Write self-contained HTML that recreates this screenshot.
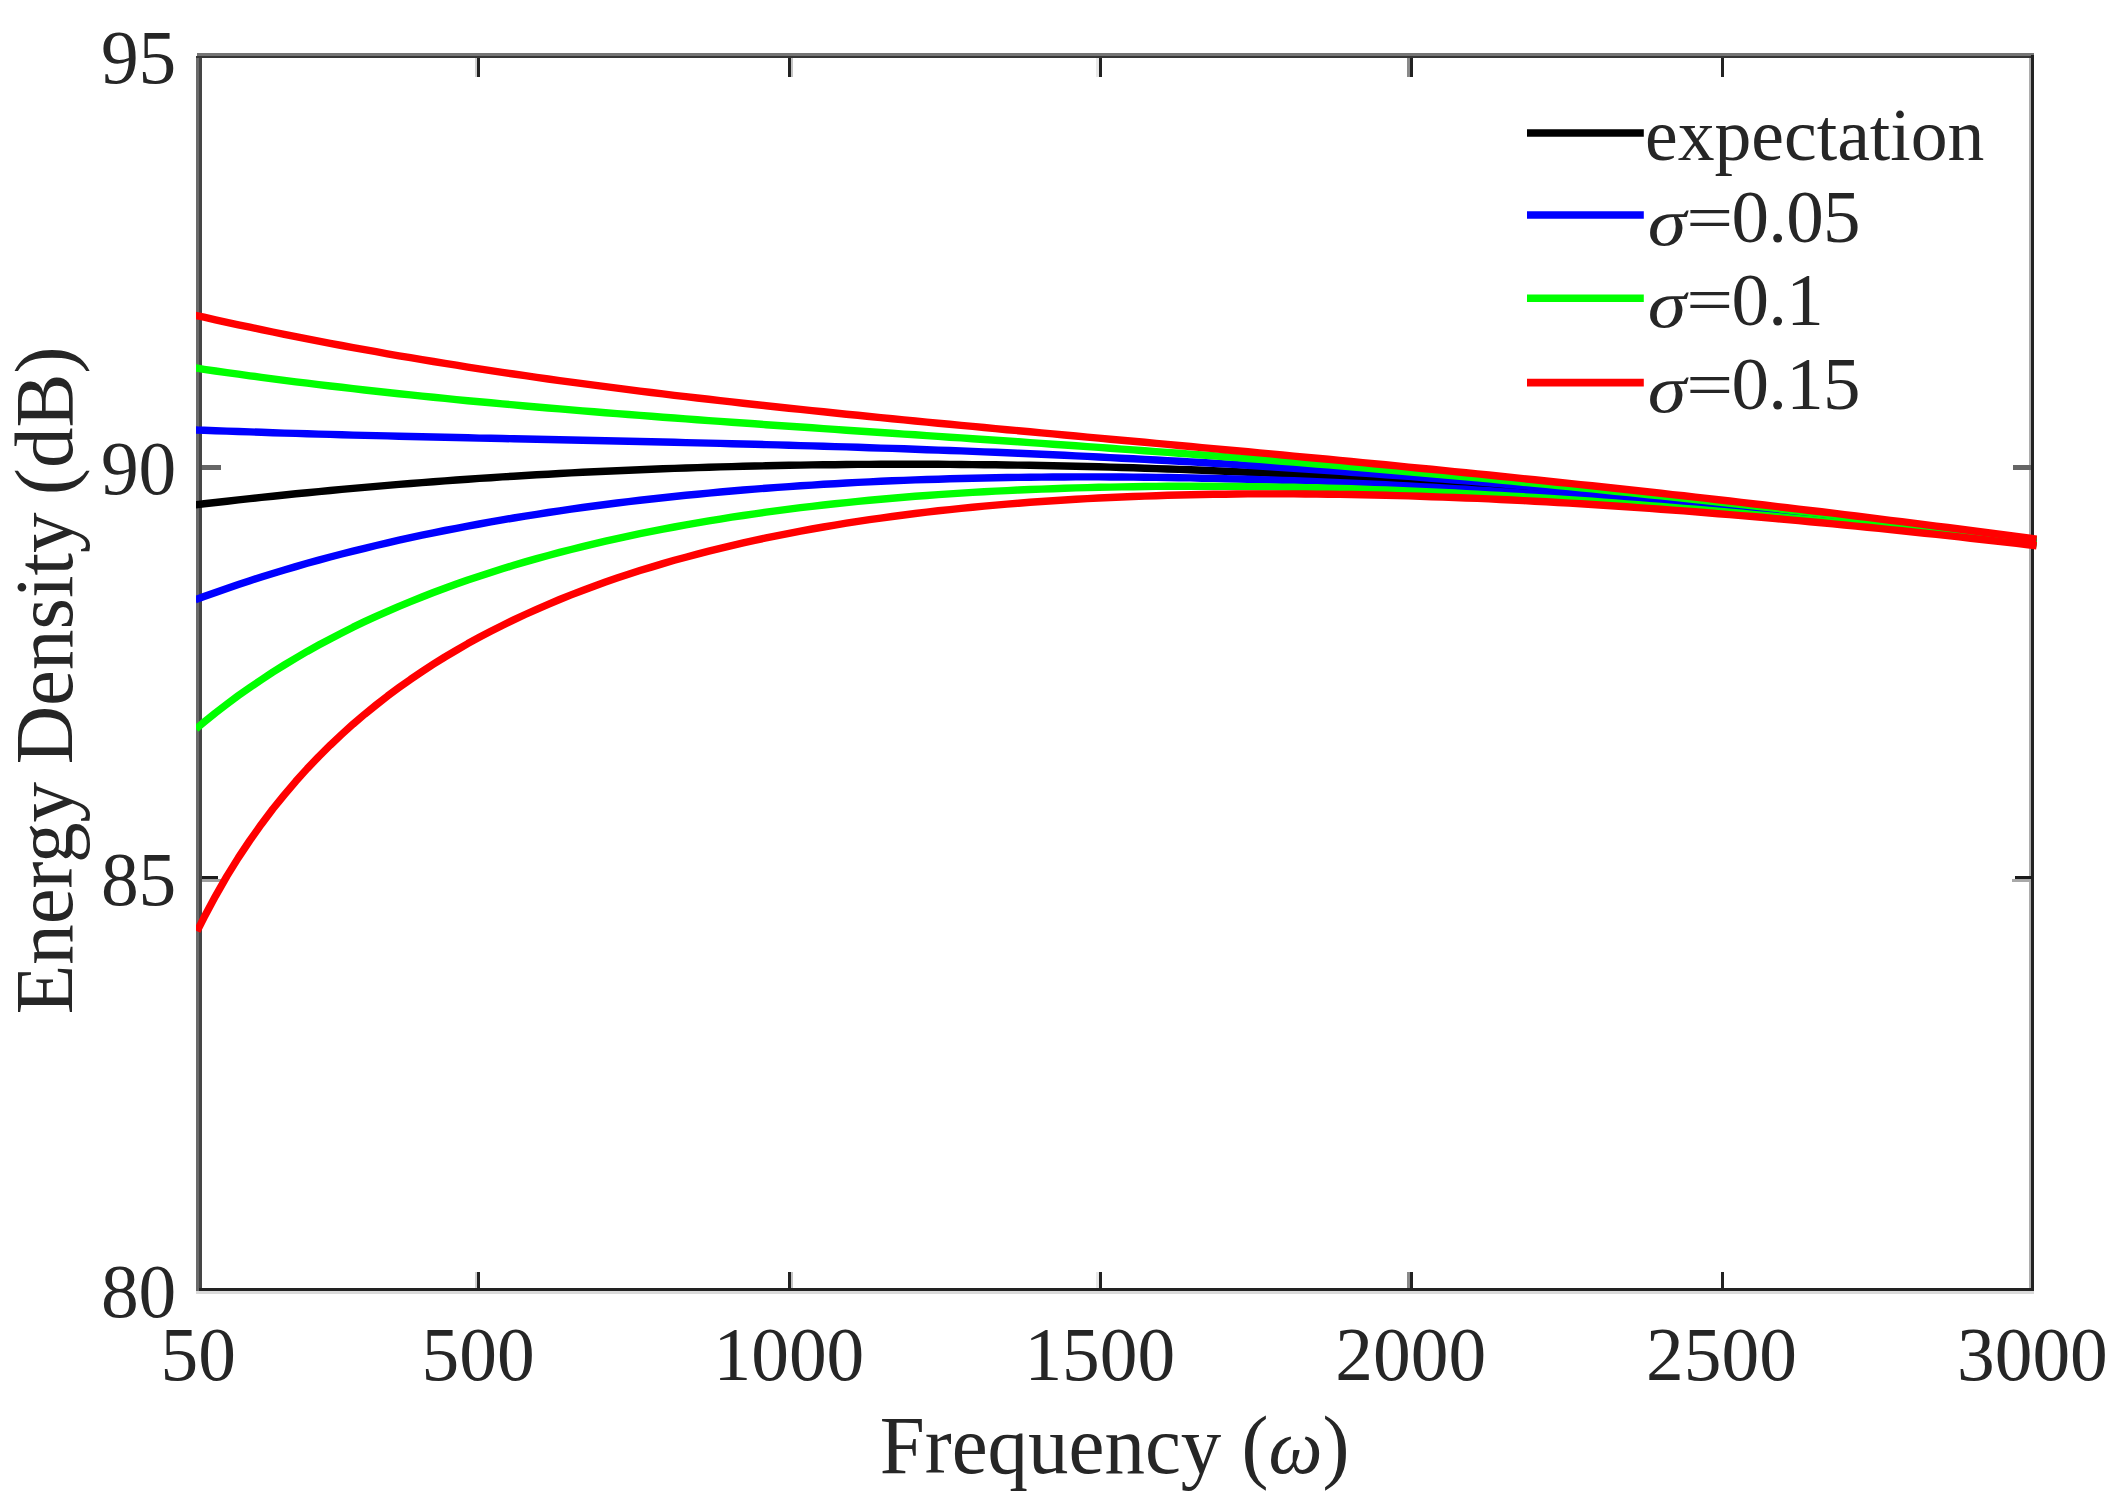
<!DOCTYPE html>
<html lang="en"><head><meta charset="utf-8"><title>Energy Density vs Frequency</title>
<style>html,body{margin:0;padding:0;background:#fff}body{width:2115px;height:1502px;overflow:hidden}svg{display:block}text{font-family:"Liberation Serif","Times New Roman",serif;fill:#262626}</style></head><body>
<svg width="2115" height="1502" viewBox="0 0 2115 1502">
<defs><clipPath id="ax"><rect x="196" y="50" width="1841.2" height="1245"/></clipPath></defs>
<rect width="2115" height="1502" fill="#fff"/>
<g shape-rendering="crispEdges">
<rect x="196" y="56" width="3" height="1235" fill="#6a6a6a"/><rect x="199" y="56" width="3" height="1235" fill="#454545"/>
<rect x="197" y="53" width="1837" height="2.5" fill="#757575"/><rect x="196" y="55.5" width="1838" height="2.5" fill="#363636"/>
<rect x="2029" y="58" width="2.4" height="1233" fill="#adadad"/><rect x="2031.4" y="55" width="2.7" height="1236" fill="#222"/>
<rect x="199" y="1288" width="1835" height="3" fill="#222"/><rect x="196" y="1291" width="1838" height="2.7" fill="#dadada"/>
<rect x="474.5" y="1272" width="2.6" height="16" fill="#d0d0d0"/>
<rect x="477.0" y="1272" width="3.1" height="16" fill="#222"/>
<rect x="474.5" y="58" width="2.6" height="19" fill="#d0d0d0"/>
<rect x="477.0" y="58" width="3.1" height="19" fill="#222"/>
<rect x="790.9" y="1272" width="2.2" height="16" fill="#c4c4c4"/>
<rect x="787.9" y="1272" width="3.1" height="16" fill="#222"/>
<rect x="790.9" y="58" width="2.2" height="19" fill="#c4c4c4"/>
<rect x="787.9" y="58" width="3.1" height="19" fill="#222"/>
<rect x="1096.2" y="1272" width="2.6" height="16" fill="#e8e8e8"/>
<rect x="1098.8" y="1272" width="3.1" height="16" fill="#222"/>
<rect x="1096.2" y="58" width="2.6" height="19" fill="#e8e8e8"/>
<rect x="1098.8" y="58" width="3.1" height="19" fill="#222"/>
<rect x="1407.1" y="1272" width="2.6" height="16" fill="#8a8a8a"/>
<rect x="1409.6" y="1272" width="3.1" height="16" fill="#222"/>
<rect x="1407.1" y="58" width="2.6" height="19" fill="#8a8a8a"/>
<rect x="1409.6" y="58" width="3.1" height="19" fill="#222"/>
<rect x="1720.5" y="1272" width="3.1" height="16" fill="#222"/>
<rect x="1720.5" y="58" width="3.1" height="19" fill="#222"/>
<rect x="202" y="465" width="18.5" height="5" fill="#666"/>
<rect x="2012.5" y="465" width="18.5" height="5" fill="#666"/>
<rect x="202" y="876" width="16" height="3" fill="#1c1c1c"/><rect x="202" y="879" width="18.5" height="2.7" fill="#a0a0a0"/>
<rect x="2014.5" y="876" width="17" height="3" fill="#1c1c1c"/><rect x="2012.3" y="879" width="19" height="2.7" fill="#a8a8a8"/>
</g>
<g fill="none" stroke-width="7.4" stroke-linejoin="round" stroke-linecap="square" clip-path="url(#ax)">
<path d="M198.8 504.4 L204.0 503.8 L215.5 502.5 L226.9 501.2 L238.4 499.9 L249.9 498.6 L261.4 497.4 L272.8 496.2 L284.3 495.0 L295.8 493.8 L307.2 492.7 L318.7 491.6 L330.2 490.5 L341.7 489.4 L353.1 488.4 L364.6 487.4 L376.1 486.4 L387.5 485.4 L399.0 484.4 L410.5 483.5 L422.0 482.6 L433.4 481.7 L444.9 480.9 L456.4 480.0 L467.8 479.2 L479.3 478.4 L490.8 477.7 L502.3 476.9 L513.7 476.2 L525.2 475.5 L536.7 474.8 L548.2 474.2 L559.6 473.5 L571.1 472.9 L582.6 472.3 L594.0 471.8 L605.5 471.2 L617.0 470.7 L628.5 470.2 L639.9 469.7 L651.4 469.2 L662.9 468.8 L674.3 468.4 L685.8 468.0 L697.3 467.6 L708.8 467.2 L720.2 466.9 L731.7 466.6 L743.2 466.3 L754.6 466.0 L766.1 465.8 L777.6 465.5 L789.1 465.3 L800.5 465.1 L812.0 464.9 L823.5 464.8 L834.9 464.7 L846.4 464.5 L857.9 464.4 L869.4 464.4 L880.8 464.3 L892.3 464.3 L903.8 464.3 L915.2 464.3 L926.7 464.3 L938.2 464.3 L949.7 464.4 L961.1 464.5 L972.6 464.6 L984.1 464.7 L995.5 464.8 L1007.0 465.0 L1018.5 465.1 L1030.0 465.3 L1041.4 465.5 L1052.9 465.7 L1064.4 466.0 L1075.8 466.2 L1087.3 466.5 L1098.8 466.8 L1110.3 467.1 L1121.7 467.5 L1133.2 467.8 L1144.7 468.2 L1156.2 468.6 L1167.6 469.0 L1179.1 469.4 L1190.6 469.8 L1202.0 470.3 L1213.5 470.7 L1225.0 471.2 L1236.5 471.7 L1247.9 472.2 L1259.4 472.8 L1270.9 473.3 L1282.3 473.9 L1293.8 474.5 L1305.3 475.1 L1316.8 475.7 L1328.2 476.3 L1339.7 477.0 L1351.2 477.6 L1362.6 478.3 L1374.1 479.0 L1385.6 479.7 L1397.1 480.5 L1408.5 481.2 L1420.0 481.9 L1431.5 482.7 L1442.9 483.5 L1454.4 484.3 L1465.9 485.1 L1477.4 486.0 L1488.8 486.8 L1500.3 487.7 L1511.8 488.5 L1523.2 489.4 L1534.7 490.3 L1546.2 491.2 L1557.7 492.2 L1569.1 493.1 L1580.6 494.1 L1592.1 495.0 L1603.5 496.0 L1615.0 497.0 L1626.5 498.0 L1638.0 499.1 L1649.4 500.1 L1660.9 501.2 L1672.4 502.2 L1683.8 503.3 L1695.3 504.4 L1706.8 505.5 L1718.3 506.6 L1729.7 507.8 L1741.2 508.9 L1752.7 510.1 L1764.2 511.2 L1775.6 512.4 L1787.1 513.6 L1798.6 514.8 L1810.0 516.0 L1821.5 517.3 L1833.0 518.5 L1844.5 519.8 L1855.9 521.0 L1867.4 522.3 L1878.9 523.6 L1890.3 524.9 L1901.8 526.2 L1913.3 527.5 L1924.8 528.9 L1936.2 530.2 L1947.7 531.6 L1959.2 532.9 L1970.6 534.3 L1982.1 535.7 L1993.6 537.1 L2005.1 538.5 L2016.5 539.9 L2028.0 541.4 L2032.9 542.0" stroke="#000"/>
<path d="M198.8 430.1 L204.0 430.3 L215.5 430.7 L226.9 431.1 L238.4 431.5 L249.9 431.9 L261.4 432.3 L272.8 432.7 L284.3 433.1 L295.8 433.4 L307.2 433.8 L318.7 434.1 L330.2 434.4 L341.7 434.7 L353.1 435.1 L364.6 435.4 L376.1 435.6 L387.5 435.9 L399.0 436.2 L410.5 436.5 L422.0 436.8 L433.4 437.0 L444.9 437.3 L456.4 437.5 L467.8 437.8 L479.3 438.1 L490.8 438.3 L502.3 438.5 L513.7 438.8 L525.2 439.0 L536.7 439.3 L548.2 439.5 L559.6 439.8 L571.1 440.0 L582.6 440.3 L594.0 440.5 L605.5 440.8 L617.0 441.0 L628.5 441.3 L639.9 441.5 L651.4 441.8 L662.9 442.0 L674.3 442.3 L685.8 442.6 L697.3 442.9 L708.8 443.1 L720.2 443.4 L731.7 443.7 L743.2 444.0 L754.6 444.3 L766.1 444.6 L777.6 444.9 L789.1 445.2 L800.5 445.6 L812.0 445.9 L823.5 446.2 L834.9 446.6 L846.4 446.9 L857.9 447.3 L869.4 447.7 L880.8 448.1 L892.3 448.4 L903.8 448.8 L915.2 449.2 L926.7 449.7 L938.2 450.1 L949.7 450.5 L961.1 450.9 L972.6 451.4 L984.1 451.9 L995.5 452.3 L1007.0 452.8 L1018.5 453.3 L1030.0 453.8 L1041.4 454.3 L1052.9 454.8 L1064.4 455.3 L1075.8 455.9 L1087.3 456.4 L1098.8 457.0 L1110.3 457.6 L1121.7 458.2 L1133.2 458.7 L1144.7 459.4 L1156.2 460.0 L1167.6 460.6 L1179.1 461.2 L1190.6 461.9 L1202.0 462.5 L1213.5 463.2 L1225.0 463.9 L1236.5 464.6 L1247.9 465.3 L1259.4 466.0 L1270.9 466.7 L1282.3 467.5 L1293.8 468.2 L1305.3 469.0 L1316.8 469.8 L1328.2 470.6 L1339.7 471.4 L1351.2 472.2 L1362.6 473.0 L1374.1 473.8 L1385.6 474.7 L1397.1 475.5 L1408.5 476.4 L1420.0 477.3 L1431.5 478.2 L1442.9 479.1 L1454.4 480.0 L1465.9 480.9 L1477.4 481.9 L1488.8 482.8 L1500.3 483.8 L1511.8 484.8 L1523.2 485.8 L1534.7 486.8 L1546.2 487.8 L1557.7 488.8 L1569.1 489.8 L1580.6 490.9 L1592.1 491.9 L1603.5 493.0 L1615.0 494.1 L1626.5 495.2 L1638.0 496.3 L1649.4 497.4 L1660.9 498.5 L1672.4 499.7 L1683.8 500.8 L1695.3 502.0 L1706.8 503.1 L1718.3 504.3 L1729.7 505.5 L1741.2 506.7 L1752.7 507.9 L1764.2 509.2 L1775.6 510.4 L1787.1 511.6 L1798.6 512.9 L1810.0 514.2 L1821.5 515.4 L1833.0 516.7 L1844.5 518.0 L1855.9 519.3 L1867.4 520.7 L1878.9 522.0 L1890.3 523.3 L1901.8 524.7 L1913.3 526.1 L1924.8 527.4 L1936.2 528.8 L1947.7 530.2 L1959.2 531.6 L1970.6 533.0 L1982.1 534.4 L1993.6 535.9 L2005.1 537.3 L2016.5 538.8 L2028.0 540.2 L2032.9 540.9" stroke="#0000ff"/>
<path d="M198.8 598.5 L204.0 596.6 L215.5 592.4 L226.9 588.4 L238.4 584.5 L249.9 580.7 L261.4 577.0 L272.8 573.5 L284.3 570.0 L295.8 566.6 L307.2 563.3 L318.7 560.1 L330.2 557.0 L341.7 554.0 L353.1 551.1 L364.6 548.3 L376.1 545.5 L387.5 542.8 L399.0 540.2 L410.5 537.7 L422.0 535.2 L433.4 532.8 L444.9 530.5 L456.4 528.3 L467.8 526.1 L479.3 524.0 L490.8 521.9 L502.3 519.9 L513.7 518.0 L525.2 516.1 L536.7 514.3 L548.2 512.5 L559.6 510.8 L571.1 509.1 L582.6 507.5 L594.0 506.0 L605.5 504.5 L617.0 503.0 L628.5 501.6 L639.9 500.3 L651.4 499.0 L662.9 497.7 L674.3 496.5 L685.8 495.3 L697.3 494.2 L708.8 493.1 L720.2 492.0 L731.7 491.0 L743.2 490.0 L754.6 489.1 L766.1 488.2 L777.6 487.4 L789.1 486.6 L800.5 485.8 L812.0 485.1 L823.5 484.3 L834.9 483.7 L846.4 483.0 L857.9 482.4 L869.4 481.9 L880.8 481.3 L892.3 480.8 L903.8 480.4 L915.2 479.9 L926.7 479.5 L938.2 479.2 L949.7 478.8 L961.1 478.5 L972.6 478.2 L984.1 478.0 L995.5 477.7 L1007.0 477.5 L1018.5 477.4 L1030.0 477.2 L1041.4 477.1 L1052.9 477.0 L1064.4 477.0 L1075.8 476.9 L1087.3 476.9 L1098.8 476.9 L1110.3 477.0 L1121.7 477.0 L1133.2 477.1 L1144.7 477.2 L1156.2 477.4 L1167.6 477.5 L1179.1 477.7 L1190.6 477.9 L1202.0 478.2 L1213.5 478.4 L1225.0 478.7 L1236.5 479.0 L1247.9 479.3 L1259.4 479.7 L1270.9 480.0 L1282.3 480.4 L1293.8 480.8 L1305.3 481.3 L1316.8 481.7 L1328.2 482.2 L1339.7 482.7 L1351.2 483.2 L1362.6 483.7 L1374.1 484.3 L1385.6 484.8 L1397.1 485.4 L1408.5 486.0 L1420.0 486.7 L1431.5 487.3 L1442.9 488.0 L1454.4 488.7 L1465.9 489.3 L1477.4 490.1 L1488.8 490.8 L1500.3 491.6 L1511.8 492.3 L1523.2 493.1 L1534.7 493.9 L1546.2 494.7 L1557.7 495.6 L1569.1 496.4 L1580.6 497.3 L1592.1 498.2 L1603.5 499.1 L1615.0 500.0 L1626.5 500.9 L1638.0 501.9 L1649.4 502.9 L1660.9 503.8 L1672.4 504.8 L1683.8 505.8 L1695.3 506.9 L1706.8 507.9 L1718.3 509.0 L1729.7 510.0 L1741.2 511.1 L1752.7 512.2 L1764.2 513.3 L1775.6 514.4 L1787.1 515.6 L1798.6 516.7 L1810.0 517.9 L1821.5 519.1 L1833.0 520.3 L1844.5 521.5 L1855.9 522.7 L1867.4 523.9 L1878.9 525.2 L1890.3 526.4 L1901.8 527.7 L1913.3 529.0 L1924.8 530.3 L1936.2 531.6 L1947.7 532.9 L1959.2 534.2 L1970.6 535.6 L1982.1 536.9 L1993.6 538.3 L2005.1 539.7 L2016.5 541.1 L2028.0 542.5 L2032.9 543.1" stroke="#0000ff"/>
<path d="M198.8 368.5 L204.0 369.3 L215.5 371.0 L226.9 372.6 L238.4 374.2 L249.9 375.8 L261.4 377.3 L272.8 378.8 L284.3 380.3 L295.8 381.8 L307.2 383.2 L318.7 384.6 L330.2 386.0 L341.7 387.3 L353.1 388.7 L364.6 390.0 L376.1 391.2 L387.5 392.5 L399.0 393.7 L410.5 394.9 L422.0 396.1 L433.4 397.3 L444.9 398.4 L456.4 399.6 L467.8 400.7 L479.3 401.8 L490.8 402.8 L502.3 403.9 L513.7 404.9 L525.2 406.0 L536.7 407.0 L548.2 408.0 L559.6 408.9 L571.1 409.9 L582.6 410.9 L594.0 411.8 L605.5 412.7 L617.0 413.6 L628.5 414.5 L639.9 415.4 L651.4 416.3 L662.9 417.2 L674.3 418.0 L685.8 418.9 L697.3 419.7 L708.8 420.6 L720.2 421.4 L731.7 422.2 L743.2 423.0 L754.6 423.8 L766.1 424.7 L777.6 425.5 L789.1 426.2 L800.5 427.0 L812.0 427.8 L823.5 428.6 L834.9 429.4 L846.4 430.2 L857.9 431.0 L869.4 431.7 L880.8 432.5 L892.3 433.3 L903.8 434.1 L915.2 434.8 L926.7 435.6 L938.2 436.4 L949.7 437.2 L961.1 437.9 L972.6 438.7 L984.1 439.5 L995.5 440.3 L1007.0 441.0 L1018.5 441.8 L1030.0 442.6 L1041.4 443.4 L1052.9 444.2 L1064.4 445.0 L1075.8 445.8 L1087.3 446.6 L1098.8 447.4 L1110.3 448.3 L1121.7 449.1 L1133.2 449.9 L1144.7 450.7 L1156.2 451.6 L1167.6 452.4 L1179.1 453.3 L1190.6 454.1 L1202.0 455.0 L1213.5 455.8 L1225.0 456.7 L1236.5 457.6 L1247.9 458.5 L1259.4 459.4 L1270.9 460.3 L1282.3 461.2 L1293.8 462.1 L1305.3 463.0 L1316.8 464.0 L1328.2 464.9 L1339.7 465.8 L1351.2 466.8 L1362.6 467.8 L1374.1 468.7 L1385.6 469.7 L1397.1 470.7 L1408.5 471.7 L1420.0 472.7 L1431.5 473.7 L1442.9 474.7 L1454.4 475.8 L1465.9 476.8 L1477.4 477.9 L1488.8 478.9 L1500.3 480.0 L1511.8 481.1 L1523.2 482.2 L1534.7 483.2 L1546.2 484.3 L1557.7 485.5 L1569.1 486.6 L1580.6 487.7 L1592.1 488.9 L1603.5 490.0 L1615.0 491.2 L1626.5 492.3 L1638.0 493.5 L1649.4 494.7 L1660.9 495.9 L1672.4 497.1 L1683.8 498.3 L1695.3 499.5 L1706.8 500.8 L1718.3 502.0 L1729.7 503.3 L1741.2 504.5 L1752.7 505.8 L1764.2 507.1 L1775.6 508.4 L1787.1 509.7 L1798.6 511.0 L1810.0 512.3 L1821.5 513.6 L1833.0 515.0 L1844.5 516.3 L1855.9 517.7 L1867.4 519.0 L1878.9 520.4 L1890.3 521.8 L1901.8 523.2 L1913.3 524.6 L1924.8 526.0 L1936.2 527.4 L1947.7 528.9 L1959.2 530.3 L1970.6 531.7 L1982.1 533.2 L1993.6 534.7 L2005.1 536.1 L2016.5 537.6 L2028.0 539.1 L2032.9 539.8" stroke="#00ff00"/>
<path d="M198.8 726.5 L204.0 722.2 L215.5 712.9 L226.9 704.1 L238.4 695.6 L249.9 687.5 L261.4 679.7 L272.8 672.2 L284.3 665.0 L295.8 658.1 L307.2 651.4 L318.7 645.0 L330.2 638.9 L341.7 633.0 L353.1 627.2 L364.6 621.7 L376.1 616.4 L387.5 611.3 L399.0 606.3 L410.5 601.6 L422.0 597.0 L433.4 592.5 L444.9 588.2 L456.4 584.1 L467.8 580.0 L479.3 576.2 L490.8 572.4 L502.3 568.8 L513.7 565.3 L525.2 561.9 L536.7 558.6 L548.2 555.5 L559.6 552.4 L571.1 549.5 L582.6 546.6 L594.0 543.9 L605.5 541.2 L617.0 538.6 L628.5 536.1 L639.9 533.7 L651.4 531.4 L662.9 529.1 L674.3 527.0 L685.8 524.9 L697.3 522.9 L708.8 520.9 L720.2 519.1 L731.7 517.2 L743.2 515.5 L754.6 513.8 L766.1 512.2 L777.6 510.7 L789.1 509.2 L800.5 507.7 L812.0 506.4 L823.5 505.0 L834.9 503.8 L846.4 502.6 L857.9 501.4 L869.4 500.3 L880.8 499.2 L892.3 498.2 L903.8 497.3 L915.2 496.3 L926.7 495.5 L938.2 494.6 L949.7 493.9 L961.1 493.1 L972.6 492.4 L984.1 491.8 L995.5 491.1 L1007.0 490.6 L1018.5 490.0 L1030.0 489.5 L1041.4 489.1 L1052.9 488.7 L1064.4 488.3 L1075.8 487.9 L1087.3 487.6 L1098.8 487.3 L1110.3 487.1 L1121.7 486.9 L1133.2 486.7 L1144.7 486.5 L1156.2 486.4 L1167.6 486.3 L1179.1 486.3 L1190.6 486.3 L1202.0 486.3 L1213.5 486.3 L1225.0 486.4 L1236.5 486.4 L1247.9 486.6 L1259.4 486.7 L1270.9 486.9 L1282.3 487.1 L1293.8 487.3 L1305.3 487.6 L1316.8 487.8 L1328.2 488.1 L1339.7 488.5 L1351.2 488.8 L1362.6 489.2 L1374.1 489.6 L1385.6 490.0 L1397.1 490.5 L1408.5 490.9 L1420.0 491.4 L1431.5 492.0 L1442.9 492.5 L1454.4 493.0 L1465.9 493.6 L1477.4 494.2 L1488.8 494.9 L1500.3 495.5 L1511.8 496.2 L1523.2 496.8 L1534.7 497.5 L1546.2 498.3 L1557.7 499.0 L1569.1 499.8 L1580.6 500.5 L1592.1 501.3 L1603.5 502.2 L1615.0 503.0 L1626.5 503.9 L1638.0 504.7 L1649.4 505.6 L1660.9 506.5 L1672.4 507.4 L1683.8 508.4 L1695.3 509.3 L1706.8 510.3 L1718.3 511.3 L1729.7 512.3 L1741.2 513.3 L1752.7 514.4 L1764.2 515.4 L1775.6 516.5 L1787.1 517.6 L1798.6 518.7 L1810.0 519.8 L1821.5 520.9 L1833.0 522.1 L1844.5 523.2 L1855.9 524.4 L1867.4 525.6 L1878.9 526.8 L1890.3 528.0 L1901.8 529.2 L1913.3 530.5 L1924.8 531.7 L1936.2 533.0 L1947.7 534.3 L1959.2 535.6 L1970.6 536.9 L1982.1 538.2 L1993.6 539.5 L2005.1 540.9 L2016.5 542.2 L2028.0 543.6 L2032.9 544.2" stroke="#00ff00"/>
<path d="M198.8 316.1 L204.0 317.2 L215.5 319.8 L226.9 322.3 L238.4 324.8 L249.9 327.2 L261.4 329.6 L272.8 332.0 L284.3 334.3 L295.8 336.6 L307.2 338.9 L318.7 341.1 L330.2 343.3 L341.7 345.5 L353.1 347.6 L364.6 349.7 L376.1 351.7 L387.5 353.8 L399.0 355.8 L410.5 357.7 L422.0 359.6 L433.4 361.5 L444.9 363.4 L456.4 365.2 L467.8 367.1 L479.3 368.8 L490.8 370.6 L502.3 372.3 L513.7 374.0 L525.2 375.7 L536.7 377.3 L548.2 379.0 L559.6 380.6 L571.1 382.1 L582.6 383.7 L594.0 385.2 L605.5 386.7 L617.0 388.2 L628.5 389.6 L639.9 391.1 L651.4 392.5 L662.9 393.9 L674.3 395.3 L685.8 396.7 L697.3 398.0 L708.8 399.3 L720.2 400.6 L731.7 401.9 L743.2 403.2 L754.6 404.5 L766.1 405.7 L777.6 407.0 L789.1 408.2 L800.5 409.4 L812.0 410.6 L823.5 411.8 L834.9 413.0 L846.4 414.2 L857.9 415.3 L869.4 416.5 L880.8 417.6 L892.3 418.7 L903.8 419.9 L915.2 421.0 L926.7 422.1 L938.2 423.2 L949.7 424.3 L961.1 425.4 L972.6 426.4 L984.1 427.5 L995.5 428.6 L1007.0 429.7 L1018.5 430.7 L1030.0 431.8 L1041.4 432.9 L1052.9 433.9 L1064.4 435.0 L1075.8 436.0 L1087.3 437.1 L1098.8 438.1 L1110.3 439.2 L1121.7 440.2 L1133.2 441.3 L1144.7 442.3 L1156.2 443.4 L1167.6 444.4 L1179.1 445.5 L1190.6 446.5 L1202.0 447.6 L1213.5 448.6 L1225.0 449.7 L1236.5 450.7 L1247.9 451.8 L1259.4 452.9 L1270.9 453.9 L1282.3 455.0 L1293.8 456.1 L1305.3 457.2 L1316.8 458.2 L1328.2 459.3 L1339.7 460.4 L1351.2 461.5 L1362.6 462.6 L1374.1 463.7 L1385.6 464.8 L1397.1 465.9 L1408.5 467.1 L1420.0 468.2 L1431.5 469.3 L1442.9 470.4 L1454.4 471.6 L1465.9 472.7 L1477.4 473.9 L1488.8 475.0 L1500.3 476.2 L1511.8 477.4 L1523.2 478.6 L1534.7 479.8 L1546.2 481.0 L1557.7 482.2 L1569.1 483.4 L1580.6 484.6 L1592.1 485.8 L1603.5 487.0 L1615.0 488.3 L1626.5 489.5 L1638.0 490.8 L1649.4 492.0 L1660.9 493.3 L1672.4 494.6 L1683.8 495.8 L1695.3 497.1 L1706.8 498.4 L1718.3 499.7 L1729.7 501.0 L1741.2 502.4 L1752.7 503.7 L1764.2 505.0 L1775.6 506.4 L1787.1 507.7 L1798.6 509.1 L1810.0 510.5 L1821.5 511.8 L1833.0 513.2 L1844.5 514.6 L1855.9 516.0 L1867.4 517.4 L1878.9 518.8 L1890.3 520.3 L1901.8 521.7 L1913.3 523.1 L1924.8 524.6 L1936.2 526.1 L1947.7 527.5 L1959.2 529.0 L1970.6 530.5 L1982.1 532.0 L1993.6 533.5 L2005.1 535.0 L2016.5 536.5 L2028.0 538.0 L2032.9 538.7" stroke="#ff0000"/>
<path d="M198.8 927.9 L204.0 917.6 L215.5 896.1 L226.9 876.1 L238.4 857.6 L249.9 840.4 L261.4 824.2 L272.8 809.0 L284.3 794.8 L295.8 781.3 L307.2 768.6 L318.7 756.6 L330.2 745.2 L341.7 734.4 L353.1 724.1 L364.6 714.3 L376.1 705.0 L387.5 696.1 L399.0 687.6 L410.5 679.4 L422.0 671.6 L433.4 664.2 L444.9 657.0 L456.4 650.2 L467.8 643.6 L479.3 637.3 L490.8 631.3 L502.3 625.5 L513.7 619.9 L525.2 614.5 L536.7 609.3 L548.2 604.3 L559.6 599.5 L571.1 594.9 L582.6 590.5 L594.0 586.2 L605.5 582.1 L617.0 578.1 L628.5 574.3 L639.9 570.6 L651.4 567.1 L662.9 563.6 L674.3 560.3 L685.8 557.2 L697.3 554.1 L708.8 551.1 L720.2 548.3 L731.7 545.6 L743.2 542.9 L754.6 540.4 L766.1 537.9 L777.6 535.6 L789.1 533.3 L800.5 531.1 L812.0 529.0 L823.5 527.0 L834.9 525.1 L846.4 523.2 L857.9 521.4 L869.4 519.7 L880.8 518.1 L892.3 516.5 L903.8 515.0 L915.2 513.5 L926.7 512.1 L938.2 510.8 L949.7 509.6 L961.1 508.4 L972.6 507.2 L984.1 506.1 L995.5 505.1 L1007.0 504.1 L1018.5 503.2 L1030.0 502.3 L1041.4 501.5 L1052.9 500.7 L1064.4 500.0 L1075.8 499.3 L1087.3 498.6 L1098.8 498.0 L1110.3 497.5 L1121.7 497.0 L1133.2 496.5 L1144.7 496.1 L1156.2 495.7 L1167.6 495.3 L1179.1 495.0 L1190.6 494.8 L1202.0 494.5 L1213.5 494.3 L1225.0 494.2 L1236.5 494.0 L1247.9 493.9 L1259.4 493.9 L1270.9 493.9 L1282.3 493.9 L1293.8 493.9 L1305.3 494.0 L1316.8 494.1 L1328.2 494.2 L1339.7 494.4 L1351.2 494.5 L1362.6 494.8 L1374.1 495.0 L1385.6 495.3 L1397.1 495.6 L1408.5 495.9 L1420.0 496.3 L1431.5 496.7 L1442.9 497.1 L1454.4 497.5 L1465.9 498.0 L1477.4 498.4 L1488.8 498.9 L1500.3 499.5 L1511.8 500.0 L1523.2 500.6 L1534.7 501.2 L1546.2 501.8 L1557.7 502.5 L1569.1 503.1 L1580.6 503.8 L1592.1 504.5 L1603.5 505.3 L1615.0 506.0 L1626.5 506.8 L1638.0 507.6 L1649.4 508.4 L1660.9 509.2 L1672.4 510.1 L1683.8 510.9 L1695.3 511.8 L1706.8 512.7 L1718.3 513.7 L1729.7 514.6 L1741.2 515.6 L1752.7 516.5 L1764.2 517.5 L1775.6 518.6 L1787.1 519.6 L1798.6 520.6 L1810.0 521.7 L1821.5 522.8 L1833.0 523.9 L1844.5 525.0 L1855.9 526.1 L1867.4 527.2 L1878.9 528.4 L1890.3 529.6 L1901.8 530.8 L1913.3 532.0 L1924.8 533.2 L1936.2 534.4 L1947.7 535.6 L1959.2 536.9 L1970.6 538.2 L1982.1 539.5 L1993.6 540.8 L2005.1 542.1 L2016.5 543.4 L2028.0 544.7 L2032.9 545.3" stroke="#ff0000"/>
</g>
<g stroke-width="7.6" fill="none">
<line x1="1527" x2="1643.8" y1="133.0" y2="133.0" stroke="#000"/>
<line x1="1527" x2="1643.8" y1="215.0" y2="215.0" stroke="#0000ff"/>
<line x1="1527" x2="1643.8" y1="298.3" y2="298.3" stroke="#00ff00"/>
<line x1="1527" x2="1643.8" y1="382.6" y2="382.6" stroke="#ff0000"/>
</g>
<g font-size="75">
<text transform="translate(1645,160) scale(0.982,1)">expectation</text>
<text transform="translate(1647.7,244.8) scale(1.04,0.9)" font-style="italic">σ</text>
<text transform="translate(1686.2,239.0) scale(1.11,0.84)">=</text>
<text x="1731.4" y="242.4" letter-spacing="-0.75">0.05</text>
<text transform="translate(1647.7,327.2) scale(1.04,0.9)" font-style="italic">σ</text>
<text transform="translate(1686.2,321.4) scale(1.11,0.84)">=</text>
<text x="1731.4" y="324.8" letter-spacing="-0.75">0.1</text>
<text transform="translate(1647.7,411.8) scale(1.04,0.9)" font-style="italic">σ</text>
<text transform="translate(1686.2,406.0) scale(1.11,0.84)">=</text>
<text x="1731.4" y="409.4" letter-spacing="-0.75">0.15</text>
<text font-size="75.4" x="198.3" y="1379.6" text-anchor="middle">50</text>
<text font-size="75.4" x="478.1" y="1379.6" text-anchor="middle">500</text>
<text font-size="75.4" x="788.9" y="1379.6" text-anchor="middle">1000</text>
<text font-size="75.4" x="1099.8" y="1379.6" text-anchor="middle">1500</text>
<text font-size="75.4" x="1410.7" y="1379.6" text-anchor="middle">2000</text>
<text font-size="75.4" x="1721.5" y="1379.6" text-anchor="middle">2500</text>
<text font-size="75.4" x="2032.4" y="1379.6" text-anchor="middle">3000</text>
<text font-size="75.4" x="176.3" y="82.8" text-anchor="end">95</text>
<text font-size="75.4" x="176.3" y="494.0" text-anchor="end">90</text>
<text font-size="75.4" x="176.3" y="905.0" text-anchor="end">85</text>
<text font-size="75.4" x="176.3" y="1316.8" text-anchor="end">80</text>
</g>
<text font-size="82.5" transform="translate(1114.6,1472.8) scale(0.981,1)" text-anchor="middle">Frequency (<tspan font-style="italic" font-size="78">ω</tspan>)</text>
<text font-size="82.5" transform="translate(72,680.4) rotate(-90) scale(0.981,1)" word-spacing="-2.6" text-anchor="middle">Energy Density (dB)</text>
</svg></body></html>
